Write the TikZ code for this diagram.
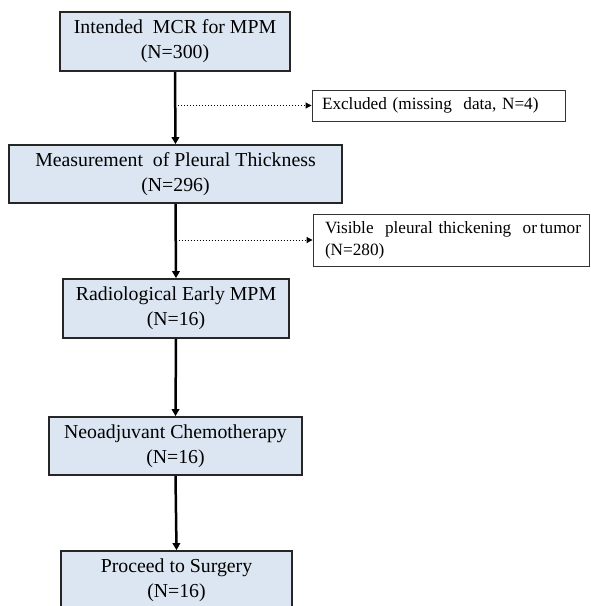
\documentclass[tikz,border=0pt]{standalone}
\usepackage{fontspec}
\setmainfont{Liberation Serif}
\usetikzlibrary{arrows.meta}
\definecolor{boxfill}{HTML}{DCE6F2}
\begin{document}
\begin{tikzpicture}[x=1pt,y=-1pt,
  mainbox/.style={draw=black!85,line width=1.7pt,fill=boxfill,align=center,inner sep=0pt,
    font=\fontsize{19.8}{25}\selectfont},
  sidebox/.style={draw=black!80,line width=0.9pt,fill=white,inner sep=0pt,
    font=\fontsize{17.2}{22}\selectfont},
  flow/.style={line width=2.5pt,-{Triangle[length=7pt,width=7.5pt]}},
  side/.style={line width=1pt,dotted,-{Triangle[length=6pt,width=6pt]}}]
\useasboundingbox (0,0) rectangle (590,606);
\begin{scope}
\clip (0,0) rectangle (590,606);
\node[mainbox,minimum width=230pt,minimum height=59pt] (b1) at (175,41.5) {Intended\ \ MCR\ for MPM\\(N=300)};
\node[mainbox,minimum width=333pt,minimum height=58pt] (b2) at (175.5,174) {Measurement\ \ of Pleural Thickness\\(N=296)};
\node[mainbox,minimum width=226pt,minimum height=59pt] (b3) at (176,308.5) {Radiological Early MPM\\(N=16)};
\node[mainbox,minimum width=253pt,minimum height=58pt] (b4) at (175.5,446) {Neoadjuvant Chemotherapy\\(N=16)};
\node[mainbox,minimum width=231pt,minimum height=58pt] (b5) at (176.5,580) {Proceed to Surgery\\(N=16)};
\node[sidebox,minimum width=253pt,minimum height=31pt,align=left,text width=233pt] (e1) at (438.5,105.5) {Excluded (missing\ \ data, N=4)};
\node[sidebox,minimum width=276pt,minimum height=52pt,align=left,text width=252pt] (e2) at (451,240) {\mbox{Visible\ \ pleural thickening\ \ or\,tumor}\\(N=280)};
\coordinate (d1) at (b1.south |- e1.west);
\coordinate (d2) at (b2.south |- e2.west);
\draw[flow] (b1.south) -- (b2.north);
\draw[flow] (b2.south) -- (b3.north);
\draw[flow] (b3.south) -- (b4.north);
\draw[flow] (b4.south) -- (b5.north);
\draw[side] ([xshift=3pt]d1) -- (e1.west);
\draw[side] ([xshift=3pt]d2) -- (e2.west);
\end{scope}
\end{tikzpicture}
\end{document}
